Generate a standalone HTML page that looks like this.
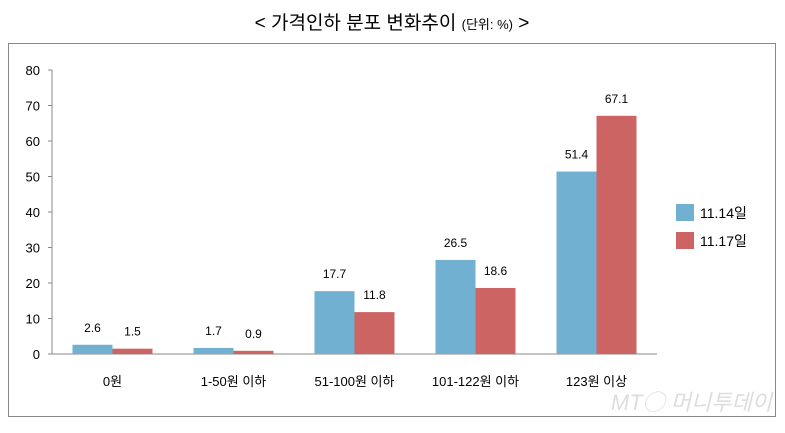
<!DOCTYPE html>
<html><head><meta charset="utf-8"><style>
body{margin:0;width:785px;height:428px;background:#fff;overflow:hidden;font-family:"Liberation Sans","Noto Sans CJK KR",sans-serif}
svg text{font-family:"Liberation Sans","Noto Sans CJK KR",sans-serif}
</style></head><body>
<svg width="785" height="428">
<text x="392" y="29" text-anchor="middle" font-size="19" fill="#000">&lt; 가격인하 분포 변화추이 <tspan font-size="13">(단위: %)</tspan> &gt;</text>
<rect x="8.5" y="43.5" width="767" height="373" fill="none" stroke="#888"/>
<g id="axes"></g><g id="bars"></g>
<g>
<rect x="676" y="204" width="18" height="17" fill="#71b0d0"/>
<text x="700" y="218" font-size="14">11.14일</text>
<rect x="676" y="232" width="18" height="17" fill="#cd6464"/>
<text x="700" y="246" font-size="14">11.17일</text>
</g>
<text x="772" y="410" text-anchor="end" font-size="22" fill="#ddd" font-style="italic">MT◯ 머니투데이</text>
</svg>
<script>
const categories=["0원","1-50원 이하","51-100원 이하","101-122원 이하","123원 이상"];
const s1114=[2.6,1.7,17.7,26.5,51.4];
const s1117=[1.5,0.9,11.8,18.6,67.1];
const ticks=[0,10,20,30,40,50,60,70,80];
const NS="http://www.w3.org/2000/svg";
const x0=52,x1=657,y0=354,yTop=70,yMax=80;
const y=v=>y0-(v/yMax)*(y0-yTop);
const gw=(x1-x0)/categories.length, bw=40;
function mk(t,a,p,txt){const e=document.createElementNS(NS,t);for(const k in a)e.setAttribute(k,a[k]);if(txt!=null)e.textContent=txt;p.appendChild(e);return e;}
const ax=document.getElementById('axes'), bg=document.getElementById('bars');
let l=mk('line',{x1:x0,y1:yTop,x2:x0,y2:y0,stroke:'#888'},ax);


l=mk('line',{x1:x0,y1:y0,x2:x1,y2:y0,stroke:'#888'},ax);


ticks.forEach(t=>{
 mk('line',{x1:x0-4,y1:y(t),x2:x0,y2:y(t),stroke:'#888'},ax);
 const e=mk('text',{x:40,y:y(t)+5,'text-anchor':'end','font-size':13},ax,t);
 
 
});
categories.forEach((c,i)=>{
 const cx=x0+gw*(i+0.5);
 const e=mk('text',{x:cx,y:386,'text-anchor':'middle','font-size':13},ax,c);
 
 
 [[s1114,'#71b0d0',-bw],[s1117,'#cd6464',0]].forEach(([s,col,off],j)=>{
  const v=s[i];
  const r=mk('rect',{x:cx+off,y:y(v),width:bw,height:y0-y(v),fill:col},bg);
  
  
  const t=mk('text',{x:cx+off+bw/2,y:y(v)-13,'text-anchor':'middle','font-size':12},bg,v.toFixed(1));
  
  
 });
});
</script>
</body></html>
